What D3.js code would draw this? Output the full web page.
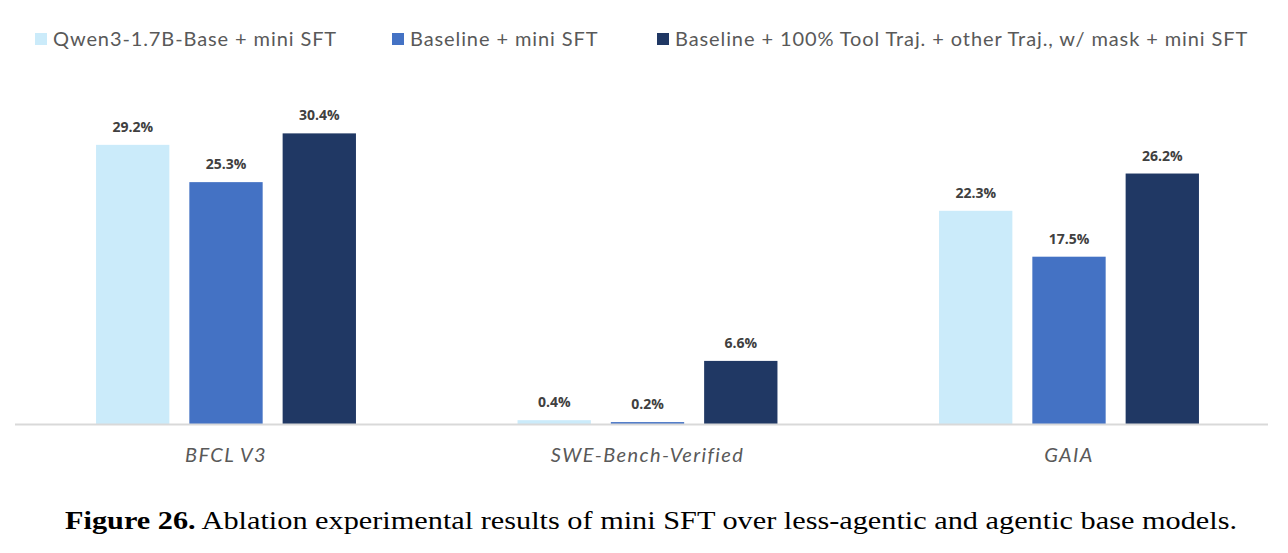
<!DOCTYPE html>
<html>
<head>
<meta charset="utf-8">
<script src="https://cdn.jsdelivr.net/npm/d3@7"></script>
<style>
  html, body { margin: 0; padding: 0; background: #ffffff; }
  svg { display: block; }
</style>
</head>
<body>
<svg id="chart" width="1288" height="553"></svg>
<script>
// ---- data ----
const categories = ["BFCL V3", "SWE-Bench-Verified", "GAIA"];
const seriesNames = [
  "Qwen3-1.7B-Base + mini SFT",
  "Baseline + mini SFT",
  "Baseline + 100% Tool Traj. + other Traj., w/ mask + mini SFT"
];
const qwenValues = [29.2, 0.4, 22.3];
const baselineValues = [25.3, 0.2, 17.5];
const toolTrajValues = [30.4, 6.6, 26.2];
const seriesColors = ["#CBEBFA", "#4472C4", "#203864"];
const captionBold = "Figure 26.";
const captionText = " Ablation experimental results of mini SFT over less-agentic and agentic base models.";

const seriesValues = [qwenValues, baselineValues, toolTrajValues];

// ---- layout ----
const svg = d3.select("#chart");
const baseY = 424;

const x0 = d3.scaleBand().domain(categories).range([15.25, 1279.75]).paddingInner(0).paddingOuter(0);
const x1 = d3.scaleBand().domain(d3.range(seriesNames.length))
  .range([0, x0.bandwidth()]).paddingInner(0.214).paddingOuter(0.866);
const y = d3.scaleLinear().domain([0, 32]).range([baseY, baseY - 32 * 9.56]);

// bars
const groups = svg.append("g").selectAll("g")
  .data(categories).join("g")
  .attr("transform", d => `translate(${x0(d)},0)`);

groups.each(function(cat, ci) {
  const g = d3.select(this);
  const data = seriesValues.map((vals, si) => ({ si, v: vals[ci] }));
  g.selectAll("rect").data(data).join("rect")
    .attr("x", d => x1(d.si))
    .attr("width", x1.bandwidth())
    .attr("y", d => y(d.v))
    .attr("height", d => baseY - y(d.v))
    .attr("fill", d => seriesColors[d.si]);
  g.selectAll("text.val").data(data).join("text")
    .attr("class", "val")
    .attr("x", d => x1(d.si) + x1.bandwidth() / 2)
    .attr("y", d => y(d.v) - 13)
    .attr("text-anchor", "middle")
    .attr("font-family", "'Open Sans', Lato, sans-serif")
    .attr("font-weight", "bold")
    .attr("font-size", 14)
    .attr("fill", "#404040")
    .text(d => d.v.toFixed(1) + "%");
});

// axis line
svg.append("line")
  .attr("x1", 15).attr("x2", 1268)
  .attr("y1", baseY + 0.5).attr("y2", baseY + 0.5)
  .attr("stroke", "#d9d9d9").attr("stroke-width", 2);

// category labels (via axis)
const xAxis = d3.axisBottom(x0).tickSize(0).tickPadding(0);
const axG = svg.append("g").attr("transform", `translate(0,${baseY})`).call(xAxis);
axG.select(".domain").remove();
axG.selectAll("text")
  .attr("y", 38)
  .attr("dy", 0)
  .attr("font-family", "Lato, 'Open Sans', sans-serif")
  .attr("font-style", "italic")
  .attr("font-size", 20)
  .attr("letter-spacing", 1.4)
  .attr("fill", "#595959");

// legend
const legendX = [35, 392, 657];
const legend = svg.append("g").selectAll("g")
  .data(seriesNames).join("g")
  .attr("transform", (d, i) => `translate(${legendX[i]},33)`);
legend.append("rect")
  .attr("width", 12).attr("height", 12)
  .attr("fill", (d, i) => seriesColors[i]);
legend.append("text")
  .attr("x", 18).attr("y", 13)
  .attr("font-family", "Lato, 'Open Sans', sans-serif")
  .attr("font-size", 20)
  .attr("letter-spacing", 0.9)
  .attr("fill", "#595959")
  .text(d => d);

// caption
const cap = svg.append("text")
  .attr("x", 651).attr("y", 529)
  .attr("text-anchor", "middle")
  .attr("font-family", "'Liberation Serif', 'DejaVu Serif', serif")
  .attr("font-size", 25)
  .attr("fill", "#000");
cap.append("tspan").attr("font-weight", "bold").text(captionBold);
cap.append("tspan").text(captionText);
const w = cap.node().getComputedTextLength();
if (w > 0) {
  cap.attr("textLength", 1172).attr("lengthAdjust", "spacingAndGlyphs");
}
</script>
</body>
</html>
